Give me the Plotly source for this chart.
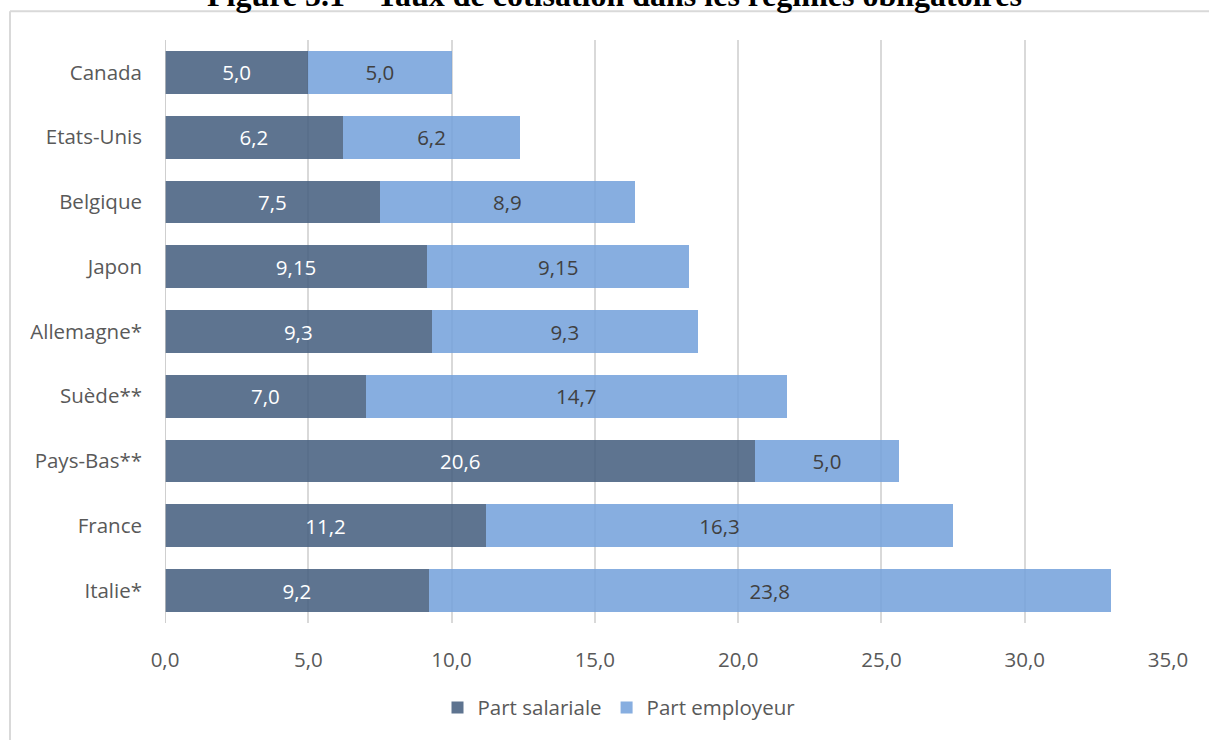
import plotly.graph_objects as go

# Taux de cotisation (% du salaire) par pays
pays = ["Canada", "Etats-Unis", "Belgique", "Japon", "Allemagne*",
        "Suède**", "Pays-Bas**", "France", "Italie*"]
part_salariale = [5.0, 6.2, 7.5, 9.15, 9.3, 7.0, 20.6, 11.2, 9.2]
part_employeur = [5.0, 6.2, 8.9, 9.15, 9.3, 14.7, 5.0, 16.3, 23.8]
x_ticks = [0, 5, 10, 15, 20, 25, 30, 35]

W, H = 1209, 740
ML, MR, MT, MB = 165, 41, 40, 114
PW, PH = W - ML - MR, H - MT - MB


def px_x(p):
    return (p - ML) / PW


def px_y(p):
    return 1 - (p - MT) / PH


def fr(v):
    s = f"{v:.2f}".rstrip("0")
    if s.endswith("."):
        s += "0"
    return s.replace(".", ",")


FONT = "'Open Sans', sans-serif"
FS = 20.5

fig = go.Figure()
fig.add_trace(go.Bar(
    y=pays, x=part_salariale, orientation="h", name="Part salariale",
    marker=dict(color="rgba(66,92,124,0.85)", line=dict(width=0)),
    text=[fr(v) for v in part_salariale], textposition="inside",
    insidetextanchor="middle",
    textfont=dict(color="white", size=FS, family=FONT),
))
fig.add_trace(go.Bar(
    y=pays, x=part_employeur, orientation="h", name="Part employeur",
    marker=dict(color="rgba(114,160,219,0.85)", line=dict(width=0)),
    text=[fr(v) for v in part_employeur], textposition="inside",
    insidetextanchor="middle",
    textfont=dict(color="#404040", size=FS, family=FONT),
))

fig.update_layout(
    width=W, height=H,
    margin=dict(l=ML, r=MR, t=MT, b=MB),
    barmode="stack", bargap=0.34,
    separators=", ",
    plot_bgcolor="white", paper_bgcolor="white",
    font=dict(family=FONT, color="#595959", size=FS),
    uniformtext=dict(mode="show", minsize=10),
    showlegend=True,
    legend=dict(orientation="h", x=px_x(619), xanchor="center",
                y=px_y(711), yanchor="middle",
                font=dict(size=FS, color="#595959"),
                itemwidth=30, traceorder="normal"),
    xaxis=dict(range=[0, 35], tickvals=x_ticks, tickformat=".1f",
               showgrid=True, gridcolor="#d9d9d9", gridwidth=1.5,
               zeroline=False, showline=False, ticks="",
               ticklabelstandoff=22,
               tickfont=dict(size=FS, color="#595959")),
    yaxis=dict(autorange="reversed", showgrid=False, zeroline=False,
               showline=False, ticks="", ticklabelstandoff=22,
               tickfont=dict(size=FS, color="#595959")),
    shapes=[
        dict(type="line", xref="paper", yref="paper",
             x0=px_x(10), x1=px_x(1215), y0=px_y(11), y1=px_y(11),
             line=dict(color="#d9d9d9", width=2)),
        dict(type="line", xref="paper", yref="paper",
             x0=px_x(10), x1=px_x(10), y0=px_y(11), y1=px_y(745),
             line=dict(color="#d9d9d9", width=2)),
        dict(type="line", xref="x", yref="paper",
             x0=0, x1=0, y0=0, y1=1,
             line=dict(color="#bfbfbf", width=1.5)),
    ],
    annotations=[
        dict(text="<b>Figure 5.1 – Taux de cotisation dans les régimes obligatoires</b>",
             xref="paper", yref="paper", x=px_x(614), y=px_y(15),
             xanchor="center", yanchor="bottom", showarrow=False,
             font=dict(family="Liberation Serif, serif", size=32, color="black")),
    ],
)

fig.write_html("out.html")
